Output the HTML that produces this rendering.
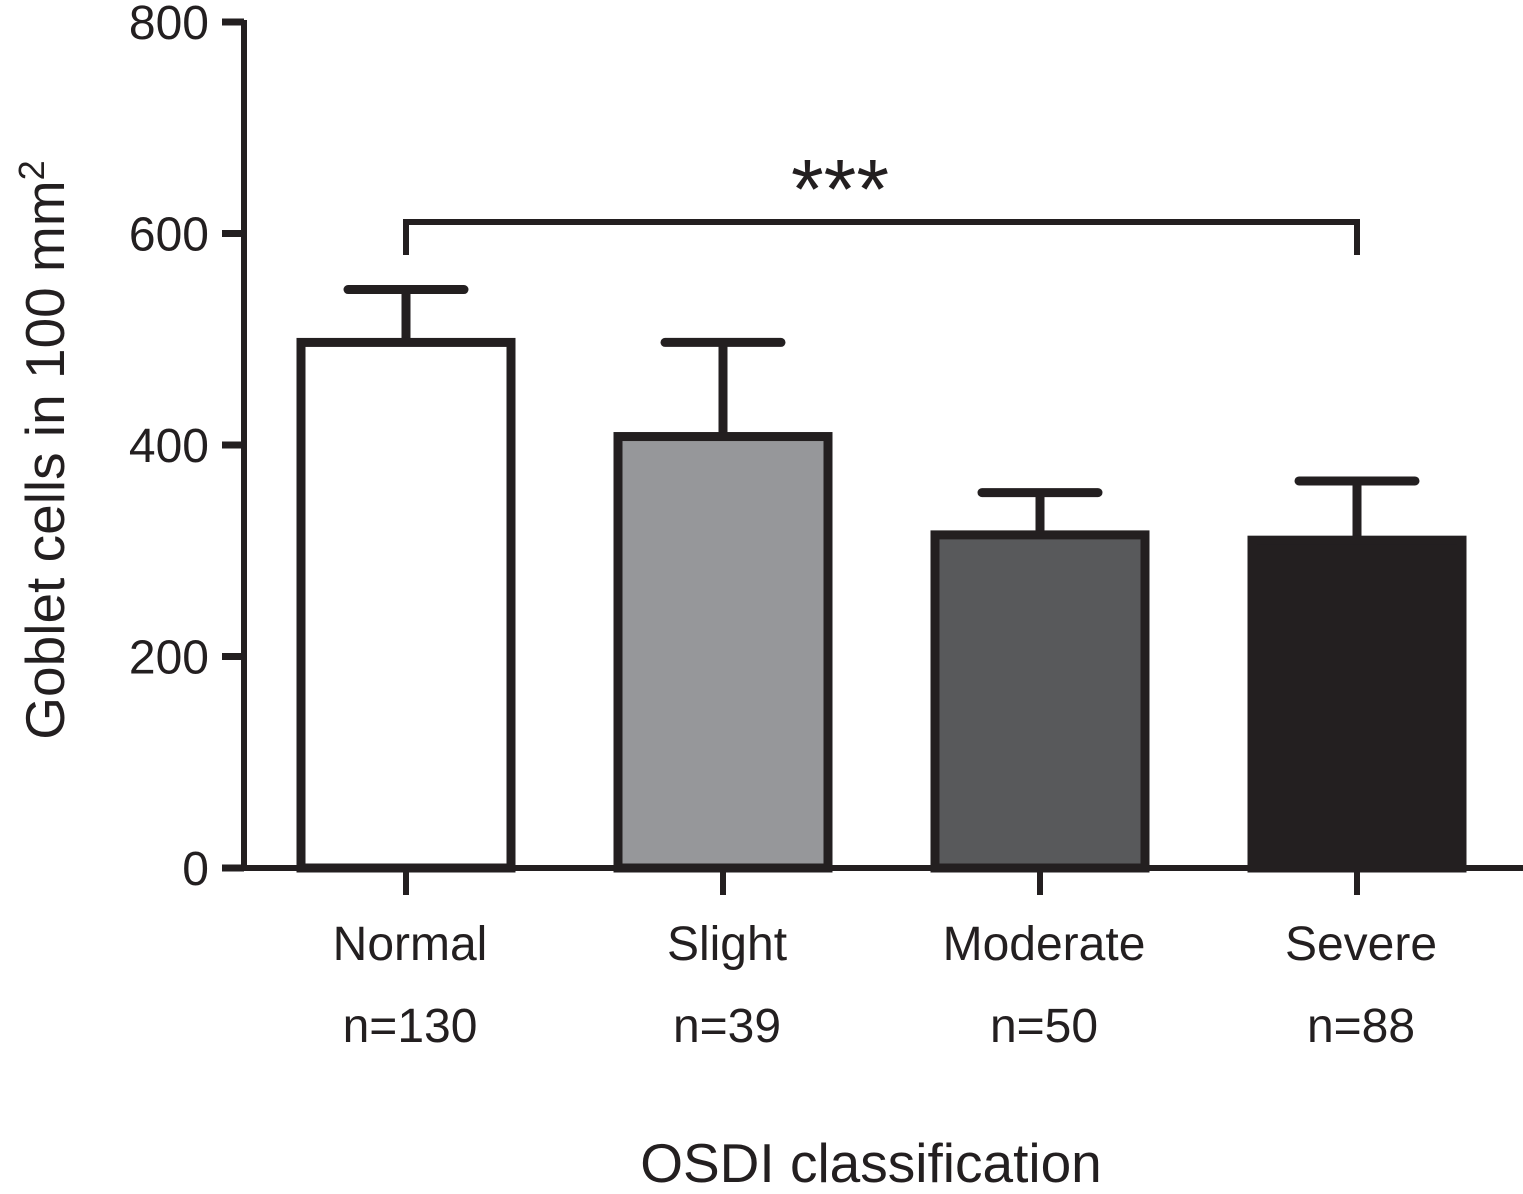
<!DOCTYPE html>
<html><head><meta charset="utf-8"><style>
body{margin:0;background:#fff}
svg{display:block;font-family:"Liberation Sans",sans-serif}
</style></head><body>
<svg id="chart" width="1523" height="1194" viewBox="0 0 1523 1194" xmlns="http://www.w3.org/2000/svg">
</svg>
<script>
const categories=["Normal","Slight","Moderate","Severe"];
const counts=["n=130","n=39","n=50","n=88"];
const means=[497,408,315,310];
const errors=[50,89,40,56];
const fills=["#ffffff","#96979a","#58595b","#231f20"];
const yTicks=[0,200,400,600,800];
const NS="http://www.w3.org/2000/svg";
const svg=document.getElementById('chart');
const y0=868,yTop=22;
function y(v){return y0-(y0-yTop)*v/800;}
const step=317;
function xc(i){return 406+i*step;}
const barW=210,col="#231f20";
function mk(tag,attrs,parent){const e=document.createElementNS(NS,tag);for(const k in attrs)e.setAttribute(k,attrs[k]);(parent||svg).appendChild(e);return e;}
categories.forEach((c,i)=>{
  const cx=xc(i);
  const eb=mk('path',{d:`M${cx} ${y(means[i])} V${y(means[i]+errors[i])} M${cx-58} ${y(means[i]+errors[i])} H${cx+58}`,stroke:col,'stroke-width':9,fill:'none','stroke-linecap':'round'});
  
  
  const r=mk('rect',{x:cx-barW/2,y:y(means[i]),width:barW,height:y0-y(means[i]),fill:fills[i],stroke:col,'stroke-width':9});
  
  
  const t=mk('text',{x:cx+4,y:960,'font-size':48,'text-anchor':'middle',fill:col});
  t.textContent=c;
  
  
  const n=mk('text',{x:cx+4,y:1042,'font-size':48,'text-anchor':'middle',fill:col});
  n.textContent=counts[i];
  
  
  const tk=mk('line',{x1:cx,x2:cx,y1:y0,y2:895,stroke:col,'stroke-width':6});
  
  
});
const ya=mk('path',{d:`M244 ${yTop-2} V${y0} M222 ${y0} H1523`,stroke:col,'stroke-width':6,fill:'none'});


yTicks.forEach(v=>{
  const l=mk('line',{x1:222,x2:244,y1:y(v),y2:y(v),stroke:col,'stroke-width':7});
  
  
  const t=mk('text',{x:209,y:y(v)+17,'font-size':48,'text-anchor':'end',fill:col});
  t.textContent=v;
  
  
});
const br=mk('path',{d:`M${xc(0)} 255 V222 H${xc(3)} V255`,stroke:col,'stroke-width':6,fill:'none'});


const st=mk('text',{x:840,y:218,'font-size':84,'text-anchor':'middle',fill:col});
st.textContent='***';


const xt=mk('text',{x:871,y:1182,'font-size':55,'text-anchor':'middle',fill:col});
xt.textContent='OSDI classification';


const yt=mk('text',{x:0,y:0,'font-size':55,'text-anchor':'middle',fill:col,transform:'translate(64 450) rotate(-90)'});
yt.innerHTML='Goblet cells in 100 mm<tspan dy="-20" font-size="36">2</tspan>';


</script>
</body></html>
